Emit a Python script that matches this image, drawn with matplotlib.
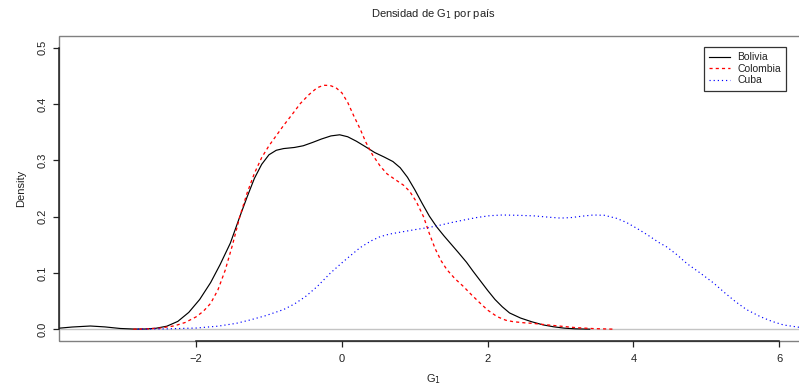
import matplotlib
matplotlib.use("Agg")
import matplotlib.pyplot as plt
from matplotlib.patches import Rectangle

plt.rcParams['font.family'] = ['Liberation Sans', 'DejaVu Sans']

# Density estimates (x = G1, y = density)
bolivia_x = [-3.89, -3.70, -3.45, -3.25, -3.04, -2.85, -2.70, -2.55, -2.40, -2.25, -2.10, -1.95, -1.80,
             -1.67, -1.53, -1.40, -1.30, -1.20, -1.10, -1.00, -0.90, -0.80, -0.65, -0.53, -0.40, -0.28,
             -0.15, -0.03, 0.08, 0.20, 0.34, 0.45, 0.58, 0.70, 0.80, 0.90, 1.00, 1.10, 1.20, 1.30,
             1.40, 1.50, 1.60, 1.71, 1.80, 1.90, 2.00, 2.10, 2.20, 2.30, 2.45, 2.60, 2.76, 2.90,
             3.05, 3.20, 3.40]
bolivia_y = [0.0018, 0.0040, 0.0058, 0.0042, 0.0014, 0.0004, 0.0005, 0.0018, 0.0055, 0.0140, 0.0300, 0.0530, 0.0830,
             0.1150, 0.1530, 0.2000, 0.2350, 0.2680, 0.2930, 0.3100, 0.3180, 0.3210, 0.3230, 0.3260, 0.3320, 0.3380,
             0.3435, 0.3455, 0.3420, 0.3340, 0.3230, 0.3140, 0.3060, 0.2980, 0.2870, 0.2700, 0.2480, 0.2240, 0.2010, 0.1820,
             0.1660, 0.1510, 0.1360, 0.1190, 0.1030, 0.0860, 0.0690, 0.0530, 0.0400, 0.0290, 0.0200, 0.0135, 0.0078, 0.0045,
             0.0020, 0.0008, 0.0002]

colombia_x = [-2.86, -2.70, -2.50, -2.30, -2.15, -2.00, -1.90, -1.80, -1.70, -1.60, -1.50, -1.40, -1.30,
              -1.20, -1.10, -1.00, -0.90, -0.80, -0.68, -0.57, -0.45, -0.34, -0.25, -0.16, -0.08, 0.00,
              0.08, 0.16, 0.25, 0.33, 0.42, 0.525, 0.62, 0.72, 0.845, 0.93, 1.02, 1.12, 1.20, 1.28,
              1.36, 1.44, 1.55, 1.67, 1.78, 1.90, 2.00, 2.13, 2.25, 2.35, 2.50, 2.62, 2.80, 3.00,
              3.20, 3.45, 3.73]
colombia_y = [0.0002, 0.0006, 0.0020, 0.0060, 0.0120, 0.0220, 0.0320, 0.0460, 0.0700, 0.1050, 0.1500, 0.2000, 0.2420,
              0.2770, 0.3050, 0.3260, 0.3440, 0.3620, 0.3820, 0.4010, 0.4170, 0.4290, 0.4335, 0.4330, 0.4290, 0.4200,
              0.4030, 0.3800, 0.3560, 0.3320, 0.3100, 0.2900, 0.2760, 0.2670, 0.2560, 0.2450, 0.2270, 0.2000, 0.1700, 0.1430,
              0.1220, 0.1060, 0.0900, 0.0757, 0.0610, 0.0460, 0.0340, 0.0224, 0.0160, 0.0135, 0.0115, 0.0105, 0.0080, 0.0055,
              0.0030, 0.0012, 0.0002]

cuba_x = [-2.80, -2.40, -2.00, -1.70, -1.45, -1.26, -1.05, -0.80, -0.65, -0.50, -0.34, -0.16, 0.00,
          0.11, 0.25, 0.40, 0.525, 0.65, 0.80, 1.03, 1.20, 1.35, 1.50, 1.67, 1.85, 2.03, 2.20,
          2.40, 2.63, 2.85, 3.00, 3.15, 3.30, 3.45, 3.60, 3.77, 3.90, 4.05, 4.20, 4.35, 4.46,
          4.60, 4.73, 4.92, 5.10, 5.25, 5.40, 5.55, 5.74, 5.90, 6.06, 6.27, 6.45]
cuba_y = [0.0002, 0.0008, 0.0022, 0.0055, 0.0105, 0.0165, 0.0240, 0.0350, 0.0450, 0.0580, 0.0757, 0.0995, 0.1180,
          0.1300, 0.1450, 0.1570, 0.1645, 0.1690, 0.1725, 0.1776, 0.1810, 0.1850, 0.1895, 0.1940, 0.1985, 0.2018, 0.2030,
          0.2025, 0.2015, 0.1990, 0.1975, 0.1985, 0.2010, 0.2030, 0.2025, 0.1970, 0.1900, 0.1790, 0.1670, 0.1540, 0.1460,
          0.1320, 0.1170, 0.0995, 0.0820, 0.0650, 0.0490, 0.0350, 0.0224, 0.0140, 0.0076, 0.0036, 0.0015]

series_labels = ["Bolivia", "Colombia", "Cuba"]
x_ticks = [-2, 0, 2, 4, 6]
y_ticks = [0.0, 0.1, 0.2, 0.3, 0.4, 0.5]

fig = plt.figure(figsize=(7.99, 3.89), dpi=100)
W, H = 799, 389
left, right, top, bottom = 59, 807, 36, 340.7
ax = fig.add_axes([left / W, 1 - bottom / H, (right - left) / W, (bottom - top) / H])
xmin, xmax = -3.88, 6.38
ymin, ymax = -0.0203, 0.521
ax.set_xlim(xmin, xmax)
ax.set_ylim(ymin, ymax)

lw = 0.85
ax.axhline(0, color='#c4c4c4', lw=1.0, zorder=1)
ax.plot(bolivia_x, bolivia_y, color='black', lw=lw, ls='-', label=series_labels[0], zorder=3)
ax.plot(colombia_x, colombia_y, color='red', lw=lw * 1.1, ls=(0, (2.4, 2.4)), label=series_labels[1], zorder=3)
ax.plot(cuba_x, cuba_y, color='blue', lw=lw, ls=(0, (1, 2.5)), label=series_labels[2], zorder=3)

for s in ['top', 'right', 'left', 'bottom']:
    ax.spines[s].set_visible(False)
box = Rectangle((0, 0), 1, 1, transform=ax.transAxes, fill=False, edgecolor='#808080',
                lw=1.0, clip_on=False, zorder=0)
ax.add_patch(box)
# axis lines from first to last tick
ax.plot([x_ticks[0], x_ticks[-1]], [ymin, ymin], color='#222222', lw=1.1, clip_on=False, zorder=4)
ax.plot([xmin, xmin], [y_ticks[0], y_ticks[-1]], color='#222222', lw=1.1, clip_on=False, zorder=4)

ax.set_xticks(x_ticks)
ax.set_xticklabels([f"{t}".replace('-', '\u2212') for t in x_ticks])
ax.set_yticks(y_ticks)
ax.set_yticklabels([f"{t:.1f}" for t in y_ticks], rotation=90, va='center')
ax.tick_params(axis='both', direction='out', length=4.5, width=0.9, color='#222222',
               labelsize=8, labelcolor='#222222', pad=4)
ax.tick_params(axis='x', pad=5)

ax.set_xlabel("G$_1$", fontsize=8, color='#222222', labelpad=6)
ax.set_ylabel("Density", fontsize=8, color='#222222', labelpad=8)
fig.text(433 / W, 1 - 14 / H, "Densidad de G$_1$ por país", ha='center', va='center',
         fontsize=8, color='#222222')

leg = ax.legend(loc='upper right', bbox_to_anchor=(786 / W, 1 - 47 / H),
                bbox_transform=fig.transFigure, frameon=True, fancybox=False,
                edgecolor='black', fontsize=7.5, handlelength=2.0, handletextpad=0.7,
                labelspacing=0.15, borderpad=0.5, borderaxespad=0)
leg.get_frame().set_linewidth(0.9)
for t in leg.get_texts():
    t.set_color('#222222')

fig.savefig("out.png", dpi=100)
